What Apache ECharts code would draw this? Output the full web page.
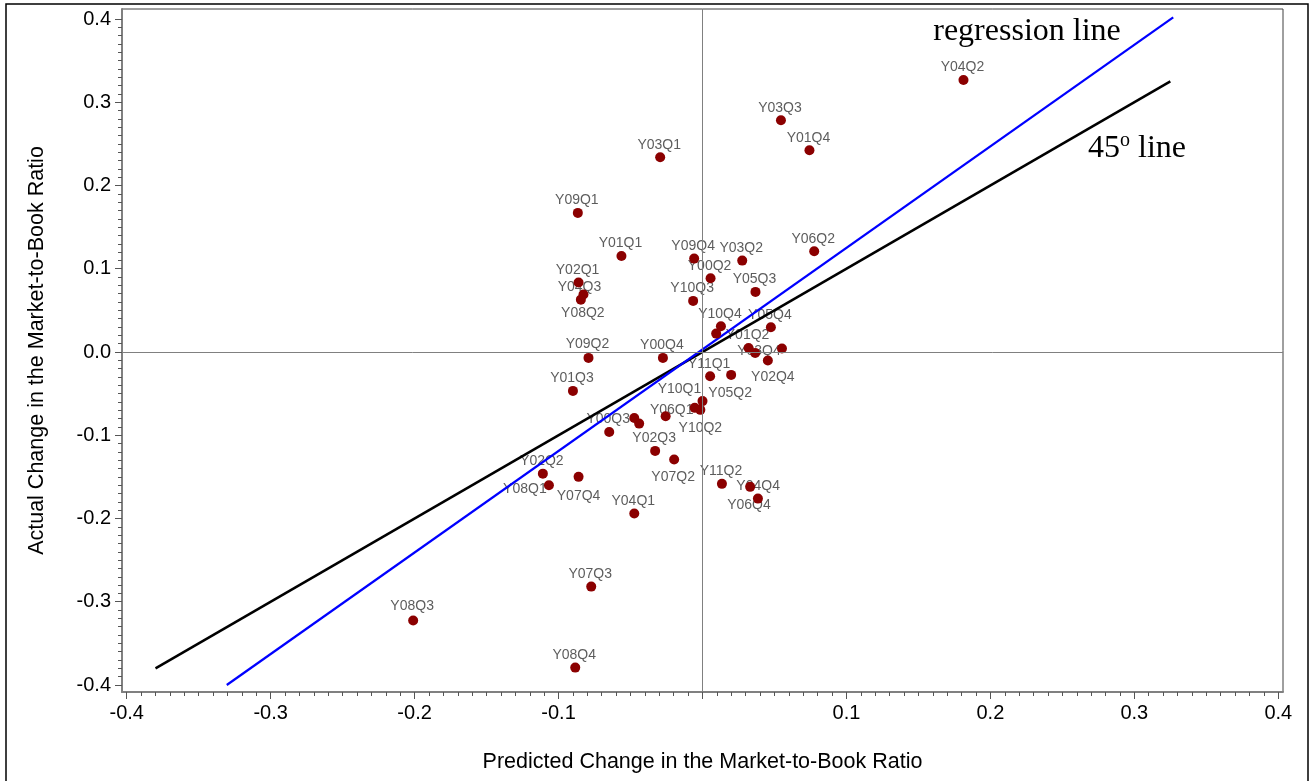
<!DOCTYPE html>
<html><head><meta charset="utf-8">
<script src="https://cdn.jsdelivr.net/npm/echarts@6/dist/echarts.min.js"></script>
<style>html,body{margin:0;padding:0;background:#fff}#c{width:1313px;height:781px}</style>
</head><body><div id="c"></div>
<script>
// ---- data ----
const quarters = ['Y00Q1','Y00Q2','Y00Q3','Y00Q4','Y01Q1','Y01Q2','Y01Q3','Y01Q4','Y02Q1','Y02Q2','Y02Q3','Y02Q4',
  'Y03Q1','Y03Q2','Y03Q3','Y03Q4','Y04Q1','Y04Q2','Y04Q3','Y04Q4','Y05Q1','Y05Q2','Y05Q3','Y05Q4',
  'Y06Q1','Y06Q2','Y06Q3','Y06Q4','Y07Q1','Y07Q2','Y07Q3','Y07Q4','Y08Q1','Y08Q2','Y08Q3','Y08Q4',
  'Y09Q1','Y09Q2','Y09Q3','Y09Q4','Y10Q1','Y10Q2','Y10Q3','Y10Q4','Y11Q1','Y11Q2'];
const predicted = [0.0095,0.0056,-0.0648,-0.0275,-0.0563,0.0320,-0.0900,0.0743,-0.0861,-0.1109,-0.0329,0.0454,
  -0.0294,0.0276,0.0545,0.0552,-0.0474,0.1813,-0.0827,0.0331,0.0366,0.0199,0.0368,0.0475,
  -0.0054,0.0776,-0.0256,0.0385,-0.0474,-0.0197,-0.0773,-0.0861,-0.1067,-0.0845,-0.2010,-0.0884,
  -0.0866,-0.0792,-0.0440,-0.0058,0.0000,-0.0015,-0.0065,0.0128,0.0053,0.0135];
const actual = [0.0221,0.0885,-0.0960,-0.0071,0.1154,0.0049,-0.0467,0.2423,0.0834,-0.1461,-0.1188,-0.0103,
  0.2339,0.1098,0.2783,0.0041,-0.1941,0.3268,0.0690,-0.1620,-0.0011,-0.0275,0.0722,0.0297,
  -0.0671,0.1210,-0.0772,-0.1761,-0.0792,-0.1292,-0.2818,-0.1500,-0.1601,0.0629,-0.3226,-0.3791,
  0.1671,-0.0071,-0.0860,0.1122,-0.0590,-0.0695,0.0614,0.0309,-0.0292,-0.1584];
const unlabeled = ['Y00Q1','Y05Q1','Y06Q3','Y07Q1','Y09Q3'];
const line45X = [-0.38, 0.325];
const line45Y = [-0.38, 0.325];
const regressionX = [-0.3305, 0.327];
const regressionY = [-0.400, 0.402];
const yTickValues = [-0.4,-0.3,-0.2,-0.1,0,0.1,0.2,0.3,0.4];
const xTickValues = [-0.4,-0.3,-0.2,-0.1,0,0.1,0.2,0.3,0.4];
const xLabelValues = [-0.4,-0.3,-0.2,-0.1,0.1,0.2,0.3,0.4];

// ---- style: label offsets (pixels, relative to point) ----
const defaultLabelOffset = [-1, -12.5];
const labelOffsets = {
  'Y04Q3':[-4,-7], 'Y08Q2':[2,14], 'Y03Q4':[-23,3], 'Y02Q4':[5,17], 'Y05Q2':[-1,18],
  'Y10Q1':[-23,-12], 'Y06Q1':[-23,2], 'Y10Q2':[0,18], 'Y07Q2':[-1,18], 'Y08Q1':[-24,4],
  'Y07Q4':[0,19], 'Y04Q4':[8,-1], 'Y06Q4':[-9,7], 'Y09Q2':[-1,-14], 'Y08Q3':[-1,-14]
};

const minorTicks = [];
for (let i = -40; i <= 40; i++) minorTicks.push(i / 100);

const FONT = 'Liberation Sans, Arial, Helvetica, sans-serif';
const pts = quarters.map((q, i) => [predicted[i], actual[i], q]);
const labelData = quarters.map((q, i) => ({
  value: [predicted[i], actual[i]], name: q,
  label: { show: unlabeled.indexOf(q) < 0, offset: labelOffsets[q] || defaultLabelOffset }
}));

const X_MIN = -0.40327, X_MAX = 0.40327, Y_MIN = -0.40841, Y_MAX = 0.41201;
const fmt = v => (Math.abs(v) < 1e-9 ? 0 : v).toFixed(1);
const SERIF = '"Liberation Serif", "Times New Roman", serif';

const chart = echarts.init(document.getElementById('c'), null, { renderer: 'canvas' });
chart.setOption({
  animation: false,
  backgroundColor: '#fff',
  grid: { left: 122, top: 9, width: 1161, height: 683, show: true, borderColor: '#404040', borderWidth: 1, backgroundColor: 'transparent' },
  xAxis: [
    { type: 'value', min: X_MIN, max: X_MAX, position: 'bottom',
      axisLine: { show: true, onZero: false, lineStyle: { color: '#808080', width: 2 } },
      axisTick: { show: true, customValues: xTickValues, length: 7, lineStyle: { color: '#555', width: 1 } },
      axisLabel: { customValues: xLabelValues, formatter: fmt, fontSize: 20, color: '#000', fontFamily: FONT, margin: 11 },
      splitLine: { show: false },
      name: 'Predicted Change in the Market-to-Book Ratio', nameLocation: 'middle', nameGap: 59,
      nameTextStyle: { fontSize: 21.5, color: '#000', fontFamily: FONT } },
    { type: 'value', min: X_MIN, max: X_MAX, position: 'bottom',
      axisLine: { show: false, onZero: false },
      axisTick: { show: true, customValues: minorTicks, length: 4, lineStyle: { color: '#555', width: 1 } },
      axisLabel: { show: false }, splitLine: { show: false } }
  ],
  yAxis: [
    { type: 'value', min: Y_MIN, max: Y_MAX, position: 'left',
      axisLine: { show: true, onZero: false, lineStyle: { color: '#808080', width: 2 } },
      axisTick: { show: true, customValues: yTickValues, length: 7, lineStyle: { color: '#555', width: 1 } },
      axisLabel: { customValues: yTickValues, formatter: fmt, fontSize: 20, color: '#000', fontFamily: FONT, margin: 11 },
      splitLine: { show: false },
      name: 'Actual Change in the Market-to-Book Ratio', nameLocation: 'middle', nameGap: 74,
      nameTextStyle: { fontSize: 21.5, color: '#000', fontFamily: FONT } },
    { type: 'value', min: Y_MIN, max: Y_MAX, position: 'left',
      axisLine: { show: false, onZero: false },
      axisTick: { show: true, customValues: minorTicks, length: 4, lineStyle: { color: '#555', width: 1 } },
      axisLabel: { show: false }, splitLine: { show: false } }
  ],
  graphic: [
    { type: 'rect', silent: true, shape: { x: 6, y: 4, width: 1302, height: 800 },
      style: { fill: 'none', stroke: '#000', lineWidth: 1.5 } },
    { type: 'text', silent: true, x: 1027, y: 32,
      style: { text: 'regression line', font: '32px ' + SERIF, fill: '#000', align: 'center', verticalAlign: 'middle' } },
    { type: 'text', silent: true, x: 1137, y: 148,
      style: { text: '{a|45}{s|o}{a| line}', align: 'center', verticalAlign: 'middle', fill: '#000',
        rich: { a: { font: '32px ' + SERIF, fill: '#000', verticalAlign: 'bottom' },
                s: { font: '20px ' + SERIF, fill: '#000', verticalAlign: 'top', padding: [0,0,14,0] } } } }
  ],
  series: [
    { type: 'line', data: [], z: 1, xAxisIndex: 0, yAxisIndex: 0,
      markLine: { silent: true, symbol: 'none', label: { show: false },
        lineStyle: { color: '#808080', width: 1, type: 'solid' },
        data: [{ xAxis: 0 }, { yAxis: 0 }] } },
    { type: 'scatter', name: 'labels', z: 2, data: labelData, symbolSize: 1,
      itemStyle: { color: 'rgba(0,0,0,0)' },
      label: { position: 'inside', formatter: p => p.name, color: '#333', fontSize: 14, fontFamily: FONT, align: 'center', verticalAlign: 'middle' } },
    { type: 'line', name: '45 line', z: 3, symbol: 'none', data: line45X.map((x, i) => [x, line45Y[i]]),
      lineStyle: { color: '#000', width: 2.5 } },
    { type: 'line', name: 'regression line', z: 3, symbol: 'none', data: regressionX.map((x, i) => [x, regressionY[i]]),
      lineStyle: { color: '#0000ff', width: 2.2 } },
    { type: 'scatter', name: 'quarters', z: 4, data: pts, symbolSize: 10,
      itemStyle: { color: '#8b0000', opacity: 1 } }
  ]
});
</script>
</body></html>
